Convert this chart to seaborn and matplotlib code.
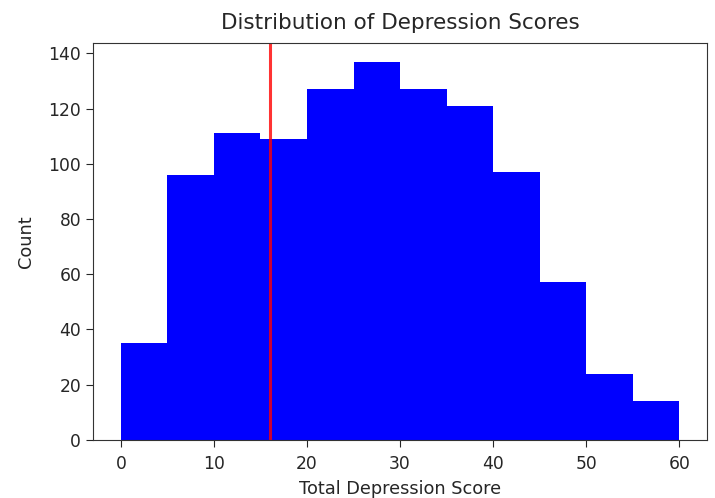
import numpy as np
import pandas as pd
import matplotlib
matplotlib.use("Agg")
import matplotlib.pyplot as plt
import seaborn as sns

# histogram bins (width 5) and counts
bin_edges = [0, 5, 10, 15, 20, 25, 30, 35, 40, 45, 50, 55, 60]
counts = [35, 96, 111, 109, 127, 137, 127, 121, 97, 57, 24, 14]
cutoff = 16

centers = [(a + b) / 2 for a, b in zip(bin_edges[:-1], bin_edges[1:])]
df = pd.DataFrame({"score": centers, "n": counts})

sns.set_style("ticks")
plt.rcParams["font.family"] = ["DejaVu Sans"]

fig, ax = plt.subplots(figsize=(7.15, 4.98), dpi=100)
sns.histplot(data=df, x="score", weights="n", bins=bin_edges, color="blue",
             alpha=1, edgecolor="none", linewidth=0, ax=ax)
ax.axvline(cutoff, color="red", alpha=0.8, linewidth=2.2)

ax.set_title("Distribution of Depression Scores", fontsize=15.5, pad=10)
ax.set_xlabel("Total Depression Score", fontsize=12.8, labelpad=5)
ax.set_ylabel("Count", fontsize=12.8, labelpad=10)
ax.tick_params(labelsize=12.3, length=5)
ax.tick_params(axis="x", pad=6)
ax.set_yticks(range(0, 141, 20))
for s in ax.spines.values():
    s.set_visible(True)
    s.set_color("#333333")

fig.subplots_adjust(left=0.130, right=0.989, top=0.914, bottom=0.117)
fig.savefig("out.png", dpi=100)
